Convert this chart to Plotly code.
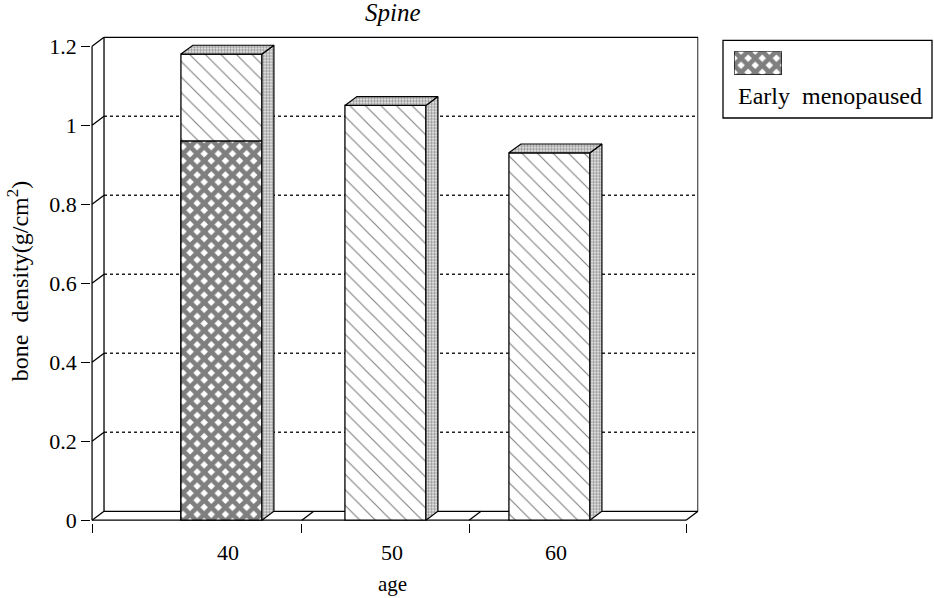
import plotly.graph_objects as go

# ---- data -------------------------------------------------------------
ages = ["40", "50", "60"]
total_density = [1.18, 1.05, 0.93]          # full column height (g/cm2)
early_menopaused = [0.96, None, None]       # dark lower segment
y_ticks = [0, 0.2, 0.4, 0.6, 0.8, 1.0, 1.2]
y_tick_text = ["0", "0.2", "0.4", "0.6", "0.8", "1", "1.2"]
series_name = "Early menopaused"

# ---- geometry ---------------------------------------------------------
W, H = 934, 598
SERIF = "Liberation Serif, Times New Roman, serif"

X0_PX, X_UNIT = 228, 164        # pixel of category 0, pixels per category
Y0_PX, Y_UNIT = 529, 401.7      # pixel of value 0, pixels per unit
X_RANGE = [-0.835, 2.868]
Y_RANGE = [-0.006, 1.232]

BAR_OFF, BAR_W = -0.287, 0.494
DX, DY = 0.073, 0.0224          # depth offset of the 3-D box

FRONT_L, FRONT_R = -0.829, 2.793
BACK_L, BACK_R = FRONT_L + DX, FRONT_R + DX
Y_TOP = max(y_ticks)

xdom = [(X0_PX + X_RANGE[0] * X_UNIT) / W, (X0_PX + X_RANGE[1] * X_UNIT) / W]
ydom = [(H - (Y0_PX - Y_RANGE[0] * Y_UNIT)) / H, (H - (Y0_PX - Y_RANGE[1] * Y_UNIT)) / H]

xs = list(range(len(ages)))

light_pattern = dict(shape="\\", size=11, solidity=0.1, fgcolor="black", bgcolor="white")
dark_pattern = dict(shape="x", size=10, solidity=0.72, fgcolor="black", bgcolor="white")
stipple = dict(shape=".", size=3, solidity=0.6, fgcolor="#222222", bgcolor="white")
outline = dict(color="black", width=1.3)

fig = go.Figure()

# front faces
fig.add_trace(go.Bar(x=xs, y=total_density, width=BAR_W, offset=BAR_OFF,
                     marker=dict(color="white", line=outline, pattern=light_pattern),
                     showlegend=False, hoverinfo="skip"))
fig.add_trace(go.Bar(x=xs, y=early_menopaused, width=BAR_W, offset=BAR_OFF, name=series_name,
                     marker=dict(color="white", line=outline, pattern=dark_pattern),
                     showlegend=False))

# side and top faces of each column
for i, v in zip(xs, total_density):
    left = i + BAR_OFF
    right = left + BAR_W
    fig.add_trace(go.Scatter(
        x=[right, right + DX, right + DX, right, right],
        y=[0, DY, v + DY, v, 0],
        mode="lines", fill="toself", fillcolor="white", fillpattern=stipple,
        line=dict(color="black", width=1.2), showlegend=False, hoverinfo="skip"))
    fig.add_trace(go.Scatter(
        x=[left, right, right + DX, left + DX, left],
        y=[v, v, v + DY, v + DY, v],
        mode="lines", fill="toself", fillcolor="white", fillpattern=stipple,
        line=dict(color="black", width=1.2), showlegend=False, hoverinfo="skip"))

# legend swatch on its own tiny axes
fig.add_trace(go.Bar(x=[0], y=[1], width=1, xaxis="x2", yaxis="y2",
                     marker=dict(color="white", line=outline, pattern=dark_pattern),
                     showlegend=False, hoverinfo="skip"))

shapes = []
line_k = dict(color="black", width=1.3)

# dotted gridlines on the back wall with the connector from each tick
for t in y_ticks[1:-1]:
    shapes.append(dict(type="line", xref="x", yref="y", x0=BACK_L, x1=BACK_R,
                       y0=t + DY, y1=t + DY, layer="below",
                       line=dict(color="#222222", width=1.5, dash="dot")))
for t in y_ticks:
    shapes.append(dict(type="line", xref="x", yref="y", x0=FRONT_L, x1=BACK_L,
                       y0=t, y1=t + DY, layer="below", line=line_k))

# box frame: back wall, floor and front axes
frame = [
    (BACK_L, DY, BACK_L, Y_TOP + DY),
    (BACK_L, Y_TOP + DY, BACK_R, Y_TOP + DY),
    (BACK_R, DY, BACK_R, Y_TOP + DY),
    (BACK_L, DY, BACK_R, DY),
    (FRONT_L, 0, FRONT_R, 0),
    (FRONT_R, 0, BACK_R, DY),
    (FRONT_L, 0, FRONT_L, Y_TOP),
]
for x0, y0, x1, y1 in frame:
    shapes.append(dict(type="line", xref="x", yref="y", x0=x0, y0=y0, x1=x1, y1=y1,
                       layer="below", line=line_k))
for b in [0.45, 1.47]:
    shapes.append(dict(type="line", xref="x", yref="y", x0=b, y0=0, x1=b + DX, y1=DY,
                       layer="below", line=line_k))

# legend box
shapes.append(dict(type="rect", xref="paper", yref="paper",
                   x0=723 / W, x1=932 / W, y0=(H - 120) / H, y1=(H - 41) / H,
                   line=dict(color="black", width=1.3), fillcolor="rgba(0,0,0,0)"))


def label(text, px, py, size, **kw):
    kw.setdefault("xanchor", "center")
    return dict(text=text, x=px / W, y=(H - py) / H, xref="paper", yref="paper",
                yanchor="middle", showarrow=False,
                font=dict(family=SERIF, size=size, color="black"), **kw)


annotations = [
    label("<i>Spine</i>", 393, 13, 25),
    label("bone  density(g/cm<sup>2</sup>)", 18, 286, 24, textangle=-90),
    label("age", 392, 594, 21),
    label("Early  menopaused", 736, 98, 24, xanchor="left"),
]

fig.update_layout(
    width=W, height=H, margin=dict(l=0, r=0, t=0, b=0),
    paper_bgcolor="white", plot_bgcolor="white",
    barmode="overlay", showlegend=False,
    font=dict(family=SERIF, size=22, color="black"),
    xaxis=dict(domain=xdom, range=X_RANGE, tickvals=xs, ticktext=ages,
               showgrid=False, zeroline=False, showline=False,
               ticks="outside", ticklen=0, ticklabelstandoff=10,
               tickfont=dict(family=SERIF, size=22),
               minor=dict(tickvals=[FRONT_L, 0.45, 1.47, FRONT_R], ticks="outside",
                          ticklen=9, tickwidth=1.2, tickcolor="black", showgrid=False)),
    yaxis=dict(domain=ydom, range=Y_RANGE, tickvals=y_ticks, ticktext=y_tick_text,
               showgrid=False, zeroline=False, showline=False,
               ticks="outside", ticklen=9, tickwidth=1.2, tickcolor="black",
               tickfont=dict(family=SERIF, size=22)),
    xaxis2=dict(domain=[734 / W, 782 / W], range=[-0.5, 0.5], anchor="y2",
                visible=False, fixedrange=True),
    yaxis2=dict(domain=[(H - 76) / H, (H - 52) / H], range=[0, 1], anchor="x2",
                visible=False, fixedrange=True),
    shapes=shapes, annotations=annotations,
)

fig.write_html("out.html")
